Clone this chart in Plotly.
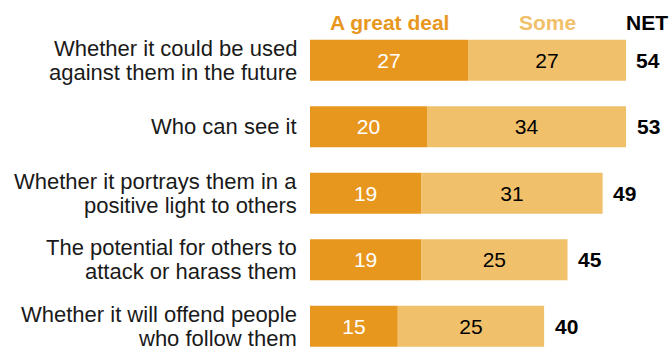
import plotly.graph_objects as go

categories = [
    ["Whether it could be used", "against them in the future"],
    ["Who can see it"],
    ["Whether it portrays them in a", "positive light to others"],
    ["The potential for others to", "attack or harass them"],
    ["Whether it will offend people", "who follow them"],
]
great_deal = [27, 20, 19, 19, 15]
some = [27, 34, 31, 25, 25]
net = [54, 53, 49, 45, 40]
headers = ["A great deal", "Some", "NET"]

DARK = "#E8971E"
LIGHT = "#F0C06B"
FONT = "Liberation Sans"
LABEL_SIZE = 22
LINE_GAP = 24

ypos = list(range(len(categories)))

fig = go.Figure()
fig.add_trace(go.Bar(
    y=ypos, x=great_deal, orientation="h", marker=dict(color=DARK, line=dict(width=0)),
    width=0.62, text=[str(v) for v in great_deal], textposition="inside",
    insidetextanchor="middle", textfont=dict(color="white", size=21, family=FONT),
    hoverinfo="skip",
))
fig.add_trace(go.Bar(
    y=ypos, x=some, base=great_deal, orientation="h", marker=dict(color=LIGHT, line=dict(width=0)),
    width=0.62, text=[str(v) for v in some], textposition="inside",
    insidetextanchor="middle", textfont=dict(color="black", size=21, family=FONT),
    hoverinfo="skip",
))

annotations = []
for i, lines in enumerate(categories):
    n = len(lines)
    for j, line in enumerate(lines):
        shift = ((n - 1) / 2 - j) * LINE_GAP
        annotations.append(dict(
            x=0, y=i, xref="x", yref="y", text=line, showarrow=False,
            xanchor="right", yanchor="middle", xshift=-11, yshift=shift,
            font=dict(size=LABEL_SIZE, family=FONT, color="#1a1a1a"),
        ))
    total = great_deal[i] + some[i]
    annotations.append(dict(
        x=total, y=i, xref="x", yref="y", text="<b>%d</b>" % net[i], showarrow=False,
        xanchor="center", xshift=22, font=dict(size=21, family=FONT, color="black"),
    ))

# headers
annotations.append(dict(x=great_deal[0] / 2, y=-0.5, xref="x", yref="y", yshift=5,
                        text="<b>%s</b>" % headers[0], showarrow=False, yanchor="middle",
                        font=dict(size=21, family=FONT, color=DARK)))
annotations.append(dict(x=great_deal[0] + some[0] / 2, y=-0.5, xref="x", yref="y", yshift=5,
                        text="<b>%s</b>" % headers[1], showarrow=False, yanchor="middle",
                        font=dict(size=21, family=FONT, color=LIGHT)))
annotations.append(dict(x=1, y=-0.5, xref="paper", yref="y", yshift=5, xshift=2,
                        text="<b>%s</b>" % headers[2], showarrow=False, yanchor="middle", xanchor="right",
                        borderpad=0,
                        font=dict(size=21, family=FONT, color="black")))

fig.update_layout(
    width=671, height=348,
    margin=dict(l=310, r=4, t=27, b=0),
    barmode="overlay",
    showlegend=False,
    plot_bgcolor="white", paper_bgcolor="white",
    xaxis=dict(range=[0, 61], visible=False, fixedrange=True),
    yaxis=dict(range=[4.327, -0.5], visible=False, fixedrange=True),
    annotations=annotations,
    uniformtext=dict(minsize=10, mode="show"),
)

fig.write_html("out.html")
